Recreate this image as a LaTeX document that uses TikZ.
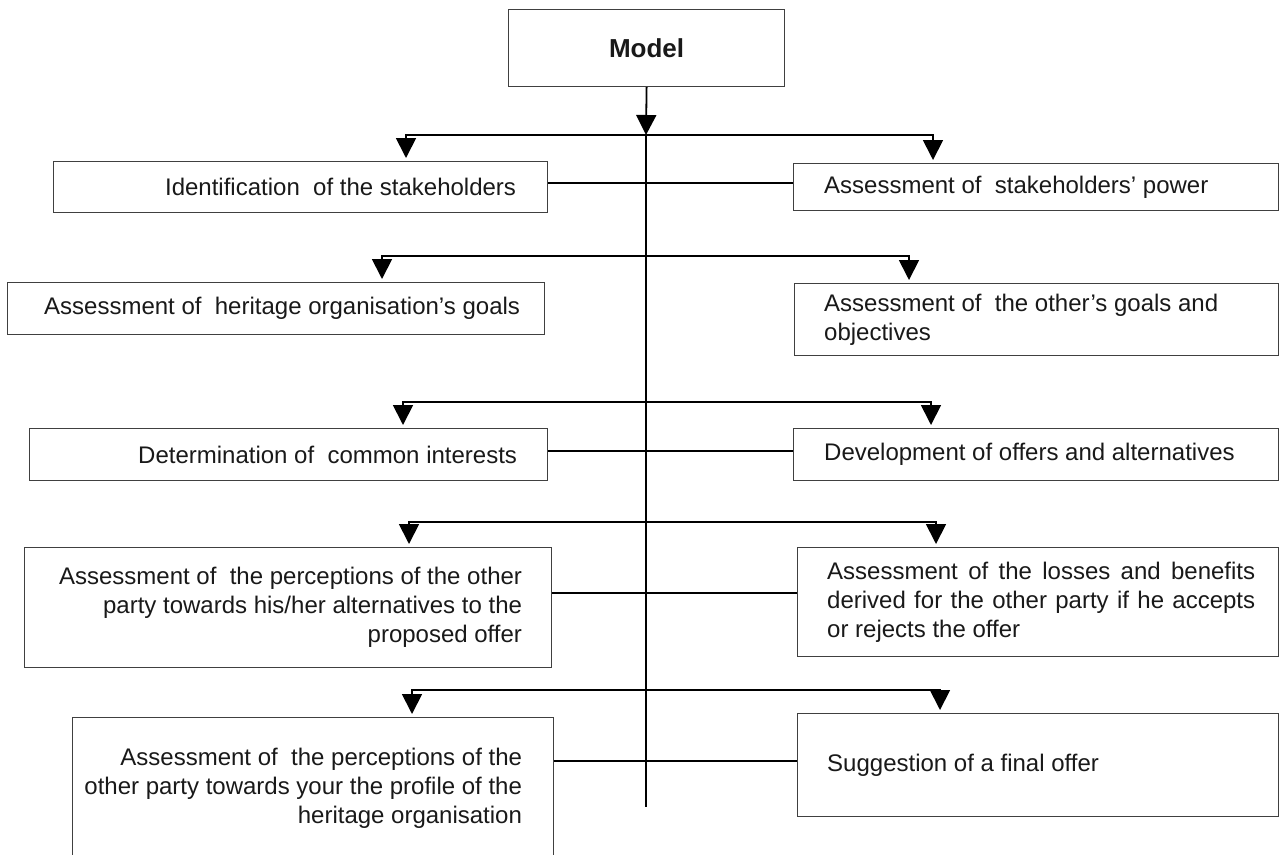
\documentclass[tikz,border=0pt]{standalone}
\usepackage{fontspec}
\setmainfont{Liberation Sans}
\usetikzlibrary{arrows.meta}

\begin{document}
\begin{tikzpicture}[x=1pt,y=-1pt,
        stagebox/.style={draw=black!75,line width=1.2pt,anchor=north west,inner sep=0pt},
        ltext/.style={anchor=east,align=right,inner sep=0pt,text=black!90,font=\fontsize{24}{29}\selectfont},
        rtext/.style={anchor=west,align=left,inner sep=0pt,text=black!90,font=\fontsize{24}{29}\selectfont},
        link/.style={draw=black,line width=1.8pt},
        flow/.style={link,-{Triangle[width=20pt,length=20pt]}},
        branch/.style={flow,shorten >=3pt}]
    \clip (0,0) rectangle (1281,854);

    \node[stagebox,minimum width=276pt,minimum height=77pt,text=black!90,font=\bfseries\fontsize{26}{31}\selectfont] (model) at (508,9) {Model};

    \node[stagebox,minimum width=494pt,minimum height=51pt] (l1) at (53,161) {};
    \node[stagebox,minimum width=485pt,minimum height=47pt] (r1) at (793,163) {};
    \node[stagebox,minimum width=537pt,minimum height=52pt] (l2) at (7,282) {};
    \node[stagebox,minimum width=484pt,minimum height=72pt] (r2) at (794,283) {};
    \node[stagebox,minimum width=518pt,minimum height=52pt] (l3) at (29,428) {};
    \node[stagebox,minimum width=485pt,minimum height=52pt] (r3) at (793,428) {};
    \node[stagebox,minimum width=527pt,minimum height=120pt] (l4) at (24,547) {};
    \node[stagebox,minimum width=481pt,minimum height=109pt] (r4) at (797,547) {};
    \node[stagebox,minimum width=481pt,minimum height=142pt] (l5) at (72,717) {};
    \node[stagebox,minimum width=481pt,minimum height=103pt] (r5) at (797,713) {};

    \node[ltext] (l1t) at ([xshift=-32pt]l1.east) {Identification~ of the stakeholders};
    \node[rtext] (r1t) at ([xshift=31pt]r1.west) {Assessment of~ stakeholders' power};
    \node[ltext] (l2t) at ([xshift=-25pt]l2.east) {Assessment of~ heritage organisation's goals};
    \node[rtext] (r2t) at ([xshift=30pt]r2.west) {Assessment of~ the other's goals and\\objectives};
    \node[ltext] (l3t) at ([xshift=-31pt]l3.east) {Determination of~ common interests};
    \node[rtext] (r3t) at ([xshift=31pt]r3.west) {Development of offers and alternatives};
    \node[ltext] (l4t) at ([xshift=-30pt]l4.east) {Assessment of~ the perceptions of the other\\party towards his/her alternatives to the\\proposed offer};
    \node[rtext,align=justify,text width=428pt] (r4t) at ([xshift=30pt]r4.west) {Assessment of the losses and benefits derived for the other party if he accepts or rejects the offer};
    \node[ltext] (l5t) at ([xshift=-32pt]l5.east) {Assessment of~ the perceptions of the\\other party towards your the profile of the\\heritage organisation};
    \node[rtext] (r5t) at ([xshift=30pt]r5.west) {Suggestion of a final offer};

    \coordinate (s1) at (646,135);
    \coordinate (s2) at (646,256);
    \coordinate (s3) at (646,402);
    \coordinate (s4) at (646,522);
    \coordinate (s5) at (646,690);
    \coordinate (trunkend) at (646,807);

    \draw[flow] (model.south) -- (s1);
    \draw[link] (s1) -- (trunkend);

    \draw[branch] (s1) -| (406,0 |- l1.north);
    \draw[branch] (s1) -| (933,0 |- r1.north);
    \draw[branch] (s2) -| (382,0 |- l2.north);
    \draw[branch] (s2) -| (909,0 |- r2.north);
    \draw[branch] (s3) -| (403,0 |- l3.north);
    \draw[branch] (s3) -| (931,0 |- r3.north);
    \draw[branch] (s4) -| (409,0 |- l4.north);
    \draw[branch] (s4) -| (936,0 |- r4.north);
    \draw[branch] (s5) -| (412,0 |- l5.north);
    \draw[branch] (s5) -| (940,0 |- r5.north);

    \draw[link] (l1.east |- 0,183) -- (r1.west |- 0,183);
    \draw[link] (l3.east |- 0,451) -- (r3.west |- 0,451);
    \draw[link] (l4.east |- 0,593) -- (r4.west |- 0,593);
    \draw[link] (l5.east |- 0,761) -- (r5.west |- 0,761);
\end{tikzpicture}
\end{document}
